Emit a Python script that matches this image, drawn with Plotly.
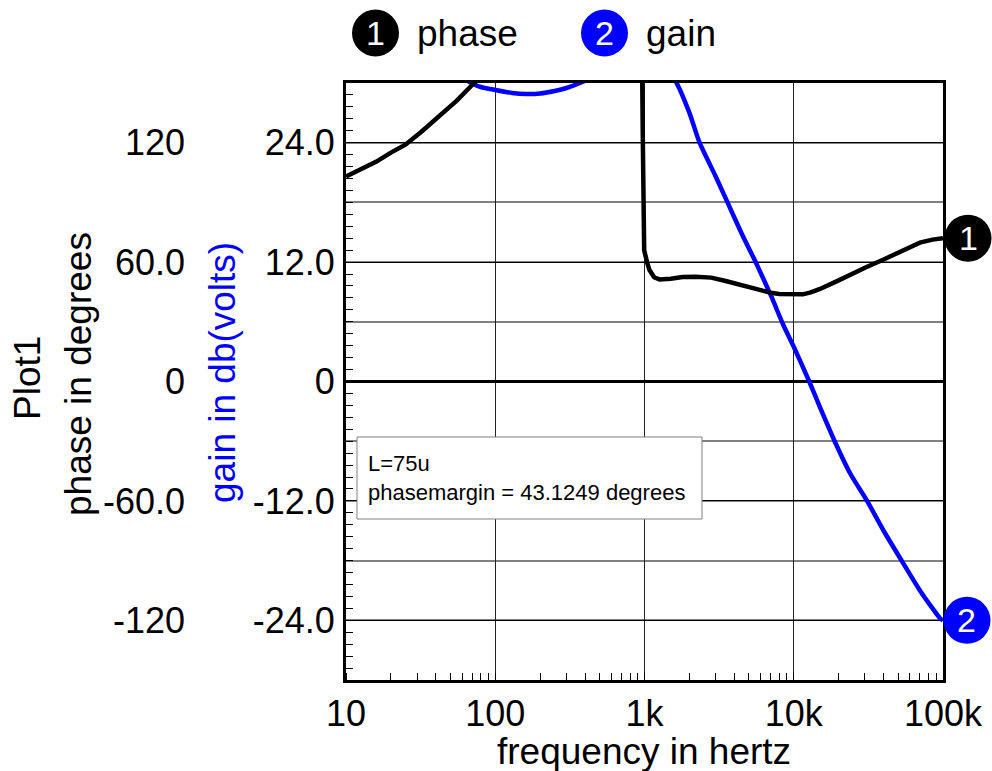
import plotly.graph_objects as go

# ---------------- data ----------------
phase_freq = [10, 13, 16, 20, 25, 32, 42, 55, 70, 80, 100, 200, 500, 900, 960, 975, 985, 995,
              1040, 1080, 1160, 1260, 1500, 1800, 2200, 2800, 3500, 4000, 5000, 6000, 7000,
              8000, 10000, 11500, 13000, 15000, 20000, 25000, 30000, 40000, 50000, 60000,
              70000, 85000, 100000]
phase_deg = [103, 107, 110.5, 115, 119, 125.5, 133, 141, 149, 153, 160, 175, 178, 179, 170,
             120, 80, 66, 60, 56, 52.4, 51.3, 51.6, 52.5, 52.7, 52.2, 50.5, 49.3, 47.3, 45.7,
             44.6, 44.0, 43.6, 43.8, 44.8, 46.5, 50.8, 54.5, 57.2, 61.3, 64.8, 67.8, 69.8,
             71.3, 72.0]

gain_freq = [10, 20, 30, 45, 60, 67, 80, 100, 130, 160, 200, 250, 300, 383, 500, 700, 1000,
             1300, 1640, 2000, 2340, 3000, 3550, 4500, 5600, 7100, 8500, 10000, 12700, 15000,
             18800, 24000, 31000, 40000, 52800, 70000, 95600, 100000]
gain_db = [48, 42, 38, 33, 31, 30.1, 29.6, 29.3, 29.0, 28.9, 28.95, 29.2, 29.5, 30.1, 31, 32.5,
           33, 32, 30, 27, 24.0, 20.6, 18.2, 14.8, 11.9, 8.5, 5.7, 3.5, 0.0, -2.6, -6.0, -9.3,
           -12.0, -15.0, -18.0, -21.0, -23.8, -24.0]

x_tickvals = [10, 100, 1000, 10000, 100000]
x_ticktext = ["10", "100", "1k", "10k", "100k"]
phase_tickvals = [-120, -60, 0, 60, 120]
phase_ticktext = ["-120", "-60.0", "0", "60.0", "120"]
gain_tickvals = [-24, -12, 0, 12, 24]
gain_ticktext = ["-24.0", "-12.0", "0", "12.0", "24.0"]

series_names = ["phase", "gain"]
series_colors = ["#000000", "#0000FF"]
note_lines = ["L=75u", "phasemargin = 43.1249 degrees"]

# ---------------- layout helpers ----------------
W, H = 992, 771
ML, MR, MT, MB = 100, 49, 83, 91
PW = W - ML - MR
PH = H - MT - MB
FONT = "Liberation Sans, Arial, sans-serif"


def px_x(px):
    return (px - ML) / PW


def px_y(py):
    return (H - MB - py) / PH


fig = go.Figure()
fig.add_trace(go.Scatter(x=gain_freq, y=gain_db, mode="lines", name=series_names[1],
                         line=dict(color=series_colors[1], width=4.5, shape="spline",
                                   smoothing=0.6),
                         yaxis="y", showlegend=False))
fig.add_trace(go.Scatter(x=phase_freq, y=phase_deg, mode="lines", name=series_names[0],
                         line=dict(color=series_colors[0], width=4.5), yaxis="y2",
                         showlegend=False))

tickfont = dict(family=FONT, size=36, color="black")
TS = 37

fig.update_layout(
    width=W, height=H,
    margin=dict(l=ML, r=MR, t=MT, b=MB, autoexpand=False),
    paper_bgcolor="white", plot_bgcolor="white",
    xaxis=dict(type="log", range=[1, 5], domain=[px_x(346), 1],
               tickmode="array", tickvals=x_tickvals, ticktext=x_ticktext,
               tickfont=tickfont, ticks="", showgrid=True, gridcolor="#222222",
               gridwidth=1, showline=True, linecolor="black", linewidth=3, mirror=True,
               zeroline=False,
               minor=dict(ticks="inside", ticklen=7, tickcolor="black", tickwidth=1,
                          dtick="D1", showgrid=False)),
    yaxis=dict(range=[-30, 30], tickmode="array", tickvals=gain_tickvals,
               ticktext=gain_ticktext, tickfont=tickfont, ticks="inside", ticklen=7,
               tickcolor="black", showgrid=False, zeroline=False, showline=True,
               linecolor="black", linewidth=3, mirror=True, ticklabelstandoff=1,
               minor=dict(dtick=1.2, tick0=0, ticks="inside", ticklen=7,
                          tickcolor="black", showgrid=False)),
    yaxis2=dict(range=[-150, 150], overlaying="y", anchor="free", position=px_x(185),
                side="left", tickmode="array", tickvals=phase_tickvals,
                ticktext=phase_ticktext, tickfont=tickfont, ticks="", showline=False,
                showgrid=True, gridcolor="black", gridwidth=1,
                zeroline=True, zerolinecolor="black", zerolinewidth=3,
                minor=dict(dtick=30, tick0=0, showgrid=True, gridcolor="#808080",
                           gridwidth=1.5, ticks="")),
)

shapes = []
annotations = []

# end-of-curve numbered labels
R = 23.5
end_labels = [("1", phase_deg[-1], "y2", series_colors[0], 968),
              ("2", gain_db[-1], "y", series_colors[1], 967)]
for txt, yv, yref, col, cx in end_labels:
    shapes.append(dict(type="circle", xref="paper", yref=yref, xsizemode="pixel",
                       ysizemode="pixel", xanchor=px_x(cx), yanchor=yv, x0=-R, x1=R,
                       y0=-R, y1=R, fillcolor=col, line=dict(color=col, width=0),
                       layer="above"))
    annotations.append(dict(text=txt, xref="paper", yref=yref, x=px_x(cx), y=yv,
                            showarrow=False, xanchor="center", yanchor="middle",
                            font=dict(family=FONT, size=34, color="white")))

# top legend
for i, (name, col, cx, tx) in enumerate([(series_names[0], series_colors[0], 375.5, 415),
                                          (series_names[1], series_colors[1], 604.5, 644)]):
    shapes.append(dict(type="circle", xref="paper", yref="paper", xsizemode="pixel",
                       ysizemode="pixel", xanchor=px_x(cx), yanchor=px_y(33), x0=-R, x1=R,
                       y0=-R, y1=R, fillcolor=col, line=dict(color=col, width=0),
                       layer="above"))
    annotations.append(dict(text=str(i + 1), xref="paper", yref="paper", x=px_x(cx),
                            y=px_y(33), showarrow=False, xanchor="center",
                            yanchor="middle",
                            font=dict(family=FONT, size=34, color="white")))
    annotations.append(dict(text=name, xref="paper", yref="paper", x=px_x(tx),
                            y=px_y(33), showarrow=False, xanchor="left",
                            yanchor="middle",
                            font=dict(family=FONT, size=TS, color="black")))

# note box
shapes.append(dict(type="rect", xref="paper", yref="paper", x0=px_x(357), x1=px_x(702),
                   y0=px_y(519), y1=px_y(437), fillcolor="white",
                   line=dict(color="#808080", width=1), layer="above"))
annotations.append(dict(text="<br>".join(note_lines), xref="paper", yref="paper",
                        x=px_x(366), y=px_y(478), showarrow=False, xanchor="left",
                        yanchor="middle", align="left",
                        font=dict(family=FONT, size=22, color="black")))

# axis titles
annotations.append(dict(text="frequency in hertz", xref="paper", yref="paper",
                        x=px_x(644), y=px_y(751), showarrow=False, xanchor="center",
                        yanchor="middle", font=dict(family=FONT, size=TS, color="black")))
annotations.append(dict(text="Plot1", xref="paper", yref="paper", x=px_x(27),
                        y=px_y(378), showarrow=False, textangle=-90, xanchor="center",
                        yanchor="middle", font=dict(family=FONT, size=TS, color="black")))
annotations.append(dict(text="phase in degrees", xref="paper", yref="paper", x=px_x(78),
                        y=px_y(374), showarrow=False, textangle=-90, xanchor="center",
                        yanchor="middle", font=dict(family=FONT, size=TS, color="black")))
annotations.append(dict(text="gain in db(volts)", xref="paper", yref="paper", x=px_x(222),
                        y=px_y(373), showarrow=False, textangle=-90, xanchor="center",
                        yanchor="middle", font=dict(family=FONT, size=TS, color="#0000FF")))

fig.update_layout(shapes=shapes, annotations=annotations)
fig.write_html("out.html", config={"displayModeBar": False},
               post_script="document.body.style.margin='0';document.body.style.padding='0';")
